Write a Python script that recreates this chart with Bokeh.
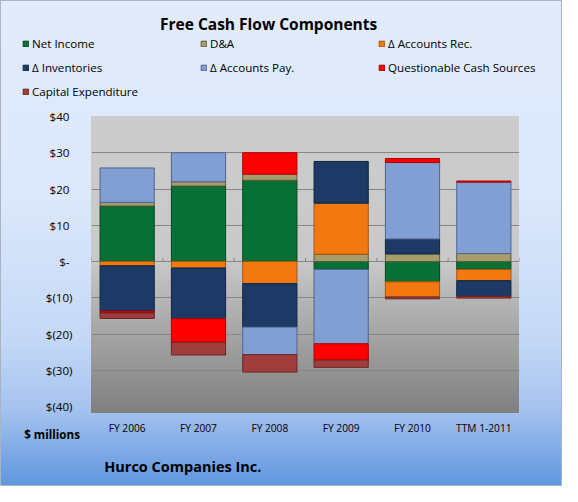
from bokeh.plotting import figure
from bokeh.layouts import column
from bokeh.models import FactorRange, Range1d, FixedTicker, Legend, LegendItem, Label
from bokeh.embed import file_html
from bokeh.resources import INLINE

# ---- data (in $ millions) ----
categories = ["FY 2006", "FY 2007", "FY 2008", "FY 2009", "FY 2010", "TTM 1-2011"]
net_income = [15.3, 20.8, 22.4, -2.2, -5.6, -2.2]
d_and_a = [1.0, 1.2, 1.7, 2.0, 2.1, 2.2]
accounts_rec = [-1.2, -1.8, -6.1, 14.1, -4.2, -3.1]
inventories = [-12.5, -14.0, -12.0, 11.5, 4.1, -4.3]
accounts_pay = [9.5, 8.0, -7.6, -20.5, 21.1, 19.7]
questionable = [-0.5, -6.5, 5.9, -4.5, 1.1, 0.3]
capex = [-1.5, -3.5, -4.8, -2.0, -0.5, -0.5]

series_names = ["Net Income", "D&A", "\u0394 Accounts Rec.", "\u0394 Inventories",
                "\u0394 Accounts Pay.", "Questionable Cash Sources", "Capital Expenditure"]
series_values = [net_income, d_and_a, accounts_rec, inventories, accounts_pay, questionable, capex]
fill_colors = ["#077036", "#a59d6b", "#f2790f", "#1c3a65", "#819fd3", "#ff0000", "#a13d3d"]
line_colors = ["#04481f", "#5f5a3a", "#a9520a", "#0f2440", "#4f6590", "#b00000", "#6a2525"]

y_ticks = [-40, -30, -20, -10, 0, 10, 20, 30, 40]
y_tick_labels = ["$(40)", "$(30)", "$(20)", "$(10)", "$-\u00a0", "$10\u00a0", "$20\u00a0", "$30\u00a0", "$40\u00a0"]

title_text = "Free Cash Flow Components"
unit_text = "$ millions"
company_text = "Hurco Companies Inc."

FONT = "Open Sans"
W = 562
TOP_H, MAIN_H, BOT_H, OVERLAP = 108, 329, 61, 12
FRAME_L, FRAME_W, FRAME_H, BORDER_T = 91, 428, 297, 8


def no_align(f):
    try:
        f.frame_align = False
    except AttributeError:
        pass


def clear_fig(f):
    f.border_fill_alpha = 0
    f.background_fill_alpha = 0
    f.outline_line_color = None
    f.grid.visible = False
    no_align(f)


def stacked(values_list):
    """Bottoms/tops of each series: positives stack upward, negatives downward."""
    pos = [0.0] * len(categories)
    neg = [0.0] * len(categories)
    out = []
    for vals in values_list:
        bottoms, tops = [], []
        for i, v in enumerate(vals):
            if v >= 0:
                bottoms.append(pos[i]); tops.append(pos[i] + v); pos[i] += v
            else:
                bottoms.append(neg[i]); tops.append(neg[i] + v); neg[i] += v
        out.append((bottoms, tops))
    return out


stacks = stacked(series_values)

# ---------- main chart ----------
p = figure(x_range=FactorRange(*categories, range_padding=0), y_range=Range1d(-40, 40),
           width=W, height=MAIN_H, output_backend="svg", toolbar_location=None,
           min_border_left=FRAME_L, min_border_top=BORDER_T,
           min_border_right=W - FRAME_L - FRAME_W,
           min_border_bottom=MAIN_H - BORDER_T - FRAME_H)
p.border_fill_alpha = 0
p.background_fill_alpha = 0
p.outline_line_color = None
no_align(p)
p.styles = {
    "background": (
        f"linear-gradient(to bottom, #cccccc 0%, #c9c9c9 48%, #7f7f7f 100%) "
        f"{FRAME_L}px {BORDER_T}px / {FRAME_W}px {FRAME_H}px no-repeat"
    ),
}

for (bottoms, tops), fc, lc in zip(stacks, fill_colors, line_colors):
    p.vbar(x=categories, bottom=bottoms, top=tops, width=0.76,
           fill_color=fc, line_color=lc, line_width=1)

# small category-separator ticks on the zero line
sep_x = [(c, -0.5) for c in categories] + [(categories[-1], 0.5)]
p.segment(x0=sep_x, x1=sep_x, y0=[0] * len(sep_x), y1=[1.0] * len(sep_x),
          line_color="#868686", line_width=1)

p.yaxis.ticker = FixedTicker(ticks=y_ticks)
p.yaxis.major_label_overrides = {t: l for t, l in zip(y_ticks, y_tick_labels)}
p.yaxis.axis_line_color = None
p.yaxis.major_tick_line_color = None
p.yaxis.minor_tick_line_color = None
p.yaxis.major_label_standoff = 13
p.yaxis.major_label_text_font = FONT
p.yaxis.major_label_text_font_size = "11.6px"
p.yaxis.major_label_text_color = "#000000"

p.xaxis.axis_line_color = None
p.xaxis.major_tick_line_color = None
p.xaxis.major_label_standoff = 8
p.xaxis.major_label_text_font = FONT
p.xaxis.major_label_text_font_size = "10.2px"
p.xaxis.major_label_text_color = "#000000"

p.xgrid.grid_line_color = None
p.ygrid.ticker = FixedTicker(ticks=y_ticks)
p.ygrid.grid_line_color = "#868686"
p.ygrid.grid_line_width = 1

# ---------- header: title + legend ----------
# its value range lies far above the data, so the legend's source bars stay out of view
top = figure(width=W, height=TOP_H, output_backend="svg", toolbar_location=None,
             x_range=FactorRange(*categories, range_padding=0), y_range=Range1d(1000, 1001),
             x_axis_location=None, y_axis_location=None,
             min_border=0, min_border_left=0, min_border_right=0,
             min_border_top=0, min_border_bottom=0)
clear_fig(top)
items = []
for name, (bottoms, tops), fc, lc in zip(series_names, stacks, fill_colors, line_colors):
    r = top.vbar(x=categories, bottom=bottoms, top=tops, width=0.76,
                 fill_color=fc, line_color=lc, line_width=1)
    items.append(LegendItem(label=name, renderers=[r]))

legend = Legend(items=items, orientation="horizontal", ncols=3,
                location=(22, 5.5), padding=0, margin=0, spacing=1,
                glyph_width=7, glyph_height=7, label_standoff=3,
                label_width=167, label_height=23,
                label_text_font=FONT, label_text_font_size="11.6px",
                label_text_color="#000000",
                border_line_alpha=0, background_fill_alpha=0)
top.add_layout(legend, "center")
top.add_layout(Label(x=159.5, y=TOP_H - 23, x_units="screen", y_units="screen", text=title_text,
                     text_align="left", text_baseline="alphabetic", text_font=FONT,
                     text_font_size="15.5px", text_font_style="bold", text_color="#000000"))

# ---------- footer: units + company ----------
bot = figure(width=W, height=BOT_H, output_backend="svg", toolbar_location=None,
             x_axis_location=None, y_axis_location=None,
             min_border=0, min_border_left=0, min_border_right=0,
             min_border_top=0, min_border_bottom=0)
clear_fig(bot)
bot.styles = {"margin-top": f"-{OVERLAP}px"}
bot.add_layout(Label(x=79.4, y=BOT_H - 8.7, x_units="screen", y_units="screen", text=unit_text,
                     text_align="right", text_baseline="middle", text_font=FONT,
                     text_font_size="11.6px", text_font_style="bold", text_color="#000000"))
bot.add_layout(Label(x=103.7, y=19.7, x_units="screen", y_units="screen", text=company_text,
                     text_align="left", text_baseline="middle", text_font=FONT,
                     text_font_size="14.5px", text_font_style="bold", text_color="#000000"))

layout = column(top, p, bot, spacing=0)
layout.styles = {
    "background": "linear-gradient(to bottom, #e1ebfc 0%, #dce8fb 40%, #c4d8f6 70%, "
                  "#a6c3ee 84%, #5e96de 100%)",
    "outline": "1px solid #a9b3c1",
    "outline-offset": "-1px",
}

open("out.html", "w").write(file_html(layout, INLINE))
